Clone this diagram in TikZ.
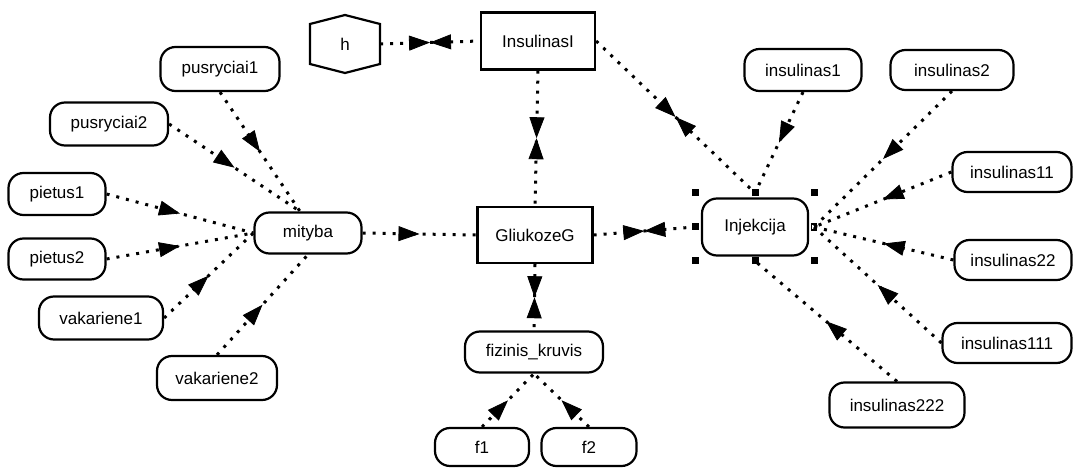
\documentclass[tikz,border=0pt]{standalone}
\usepackage{fontspec}
\setmainfont{Liberation Sans}
\usetikzlibrary{arrows.meta,decorations.markings,calc}
\begin{document}
\begin{tikzpicture}[x=1pt,y=-1pt,
  pill/.style={draw, line width=2.2pt, rounded corners=15pt, minimum height=42pt, inner sep=0pt, font=\fontsize{17}{20}\selectfont},
  box/.style={draw, line width=2.2pt, inner sep=0pt, font=\fontsize{17}{20}\selectfont},
  link/.style={line width=3pt, dash pattern=on 3pt off 7pt},
  headA/.tip={Triangle[length=21pt,width=15pt]},
  fwd/.style={link, postaction={decorate}, decoration={markings, mark=at position 0.5 with {\arrow[line width=0.8pt]{headA}}}},
  both/.style={link, postaction={decorate}, decoration={markings, mark=at position 0.5 with {\arrow[line width=0.8pt]{headA}\arrowreversed[line width=0.8pt]{headA}}}},
  handle/.style={fill=black},
]
\useasboundingbox (0,0) rectangle (1074,470);

% left side
\node[pill, minimum width=119pt, minimum height=44pt] (pus1) at (220,69) {pusryciai1};
\node[pill, minimum width=118pt, minimum height=43pt] (pus2) at (109,124) {pusryciai2};
\node[pill, minimum width=97pt] (pie1) at (57,194) {pietus1};
\node[pill, minimum width=97pt, minimum height=41pt] (pie2) at (57,259) {pietus2};
\node[pill, minimum width=124pt, minimum height=43pt] (vak1) at (101,318) {vakariene1};
\node[pill, minimum width=120pt, minimum height=44pt] (vak2) at (217,378) {vakariene2};
\node[pill, minimum width=107pt, minimum height=41pt] (mit) at (308,233) {mityba};

% centre
\node[minimum width=70pt, minimum height=58pt, inner sep=0pt, font=\fontsize{17}{20}\selectfont] (h) at (345,44) {h};
\draw[line width=2.2pt, shift={(h.center)}] (-35,-20) -- (0,-29) -- (35,-20) -- (35,20) -- (0,29) -- (-35,20) -- cycle;
\node[box, minimum width=114pt, minimum height=57pt] (ins) at (538,41) {InsulinasI};
\node[box, minimum width=115pt, minimum height=56pt] (glu) at (535,235) {GliukozeG};
\node[pill, minimum width=138pt, minimum height=41pt] (fiz) at (534,352) {fizinis\_kruvis};
\node[pill, minimum width=94pt, minimum height=38pt] (f1) at (482,447) {f1};
\node[pill, minimum width=95pt, minimum height=38pt] (f2) at (589,447) {f2};

% right side
\node[pill, minimum width=106pt, minimum height=57pt] (inj) at (755,227) {Injekcija};
\node[pill, minimum width=117pt] (i1) at (803,70) {insulinas1};
\node[pill, minimum width=123pt, minimum height=40pt] (i2) at (952,70) {insulinas2};
\node[pill, minimum width=119pt, minimum height=40pt] (i11) at (1012,172) {insulinas11};
\node[pill, minimum width=117pt, minimum height=40pt] (i22) at (1013,260) {insulinas22};
\node[pill, minimum width=129pt, minimum height=40pt] (i111) at (1007,343) {insulinas111};
\node[pill, minimum width=135pt, minimum height=45pt] (i222) at (897,405) {insulinas222};

% connection points
\coordinate (mtop) at ($(mit.north)+(-8,0)$);
\coordinate (inN) at ($(inj.center)+(0,-34)$);
\coordinate (inS) at ($(inj.center)+(0,34)$);
\coordinate (inW) at ($(inj.center)+(-60,0)$);
\coordinate (inE) at ($(inj.center)+(59,0)$);

% selection handles
\foreach \dx/\dy in {-60/-34, 0/-34, 59/-34, -60/0, -60/34, 0/34, 59/34}
  \fill[handle] ($(inj.center)+(\dx,\dy)$) ++(-3.5,-3.5) rectangle ++(7,7);
\draw[line width=1.2pt, fill=white] ($(inj.center)+(59,0)$) ++(-2.5,-3) rectangle ++(5,6);

% connectors
\draw[fwd] (pus1.south) -- (mtop);
\draw[fwd] (pus2.east) -- (mtop);
\draw[fwd] (pie1.east) -- (mit.west);
\draw[fwd] (pie2.east) -- (mit.west);
\draw[fwd] (vak1.east) -- (mit.west);
\draw[fwd] (vak2.north) -- (mit.south);
\draw[fwd] (mit.east) -- (glu.west);
\draw[both] (h.east) -- (ins.west);
\draw[both] (ins.south) -- (glu.north);
\draw[both] (glu.south) -- (fiz.north);
\draw[fwd] (f1.north) -- (fiz.south);
\draw[fwd] (f2.north) -- (fiz.south);
\draw[both] (glu.east) -- (inW);
\draw[both] (ins.east) -- (inN);
\draw[fwd] (i1.south) -- (inN);
\draw[fwd] (i2.south) -- (inE);
\draw[fwd] (i11.west) -- (inE);
\draw[fwd] (i22.west) -- (inE);
\draw[fwd] (i111.west) -- (inE);
\draw[fwd] (i222.north) -- (inS);
\end{tikzpicture}
\end{document}
